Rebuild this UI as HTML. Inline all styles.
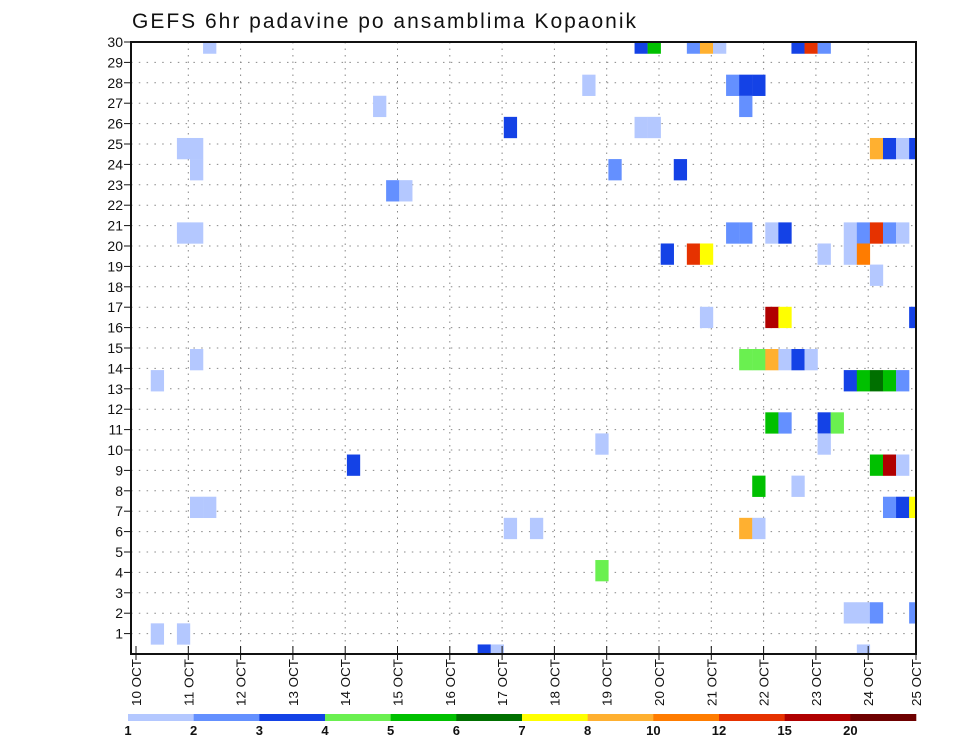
<!DOCTYPE html>
<html><head><meta charset="utf-8"><style>
html,body{margin:0;padding:0;background:#fff;}
svg{display:block;font-family:"Liberation Sans",sans-serif;}
</style></head><body>
<svg id="chart" width="960" height="742" viewBox="0 0 960 742" xmlns="http://www.w3.org/2000/svg">
<text x="132" y="28" font-size="21" fill="#111" textLength="504" lengthAdjust="spacing">GEFS 6hr padavine po ansamblima Kopaonik</text>
<g id="grid"></g>
<g id="cells" clip-path="url(#clip)"></g>
<defs><clipPath id="clip"><rect x="131" y="42" width="785" height="612"/></clipPath></defs>
<rect x="131" y="42" width="785" height="612" fill="none" stroke="#111" stroke-width="2"/>
<g id="yaxis"></g>
<g id="xaxis"></g>
<g id="legend"></g>
</svg>
<script>
const dayLabels = ["10","11","12","13","14","15","16","17","18","19","20","21","22","23","24","25"];
const yTicks = [1,2,3,4,5,6,7,8,9,10,11,12,13,14,15,16,17,18,19,20,21,22,23,24,25,26,27,28,29,30];
const legendLabels = ["1","2","3","4","5","6","7","8","10","12","15","20"];
const thresholds = [1,2,3,4,5,6,7,8,10,12,15,20];
const colors = ["#b4c8ff","#6490ff","#1442e6","#6af050","#00c000","#007000","#ffff00","#ffb030","#ff7c00","#e63200","#b00000","#6e0000"];
// member index (0..29), 6-hour step index, 6hr precipitation (mm)
const cellMember = [29,29,29,29,29,29,29,29,29, 27,27,27,27, 26,26, 25,25,25, 24,24,24,24,24,24, 23,23,23, 22,22,
 20,20,20,20,20,20,20,20,20,20,20, 19,19,19,19,19,19, 18, 16,16,16,16, 14,14,14,14,14,14,14, 13,13,13,13,13,13,
 11,11,11,11, 10,10, 9,9,9,9, 8,8, 7,7,7,7,7, 6,6,6,6, 4, 2,2,2,2, 1,1, 0,0,0];
const cellStep = [5,38,39,42,43,44,50,51,52, 34,45,46,47, 18,46, 28,38,39, 3,4,56,57,58,59, 4,36,41, 19,20,
 3,4,45,46,48,49,54,55,56,57,58, 40,42,43,52,54,55, 56, 43,48,49,59, 4,46,47,48,49,50,51, 1,54,55,56,57,58,
 48,49,52,53, 35,52, 16,56,57,58, 47,50, 4,5,57,58,59, 28,30,46,47, 35, 54,55,56,59, 1,3, 26,27,55];
const cellValue = [1.5,3.5,5.5,2.5,9,1.5,3.5,13,2.5, 1.5,2.5,3.5,3.5, 1.5,2.5, 3.5,1.5,1.5, 1.5,1.5,9,3.5,1.5,3.5, 1.5,2.5,3.5, 2.5,1.5,
 1.5,1.5,2.5,2.5,1.5,3.5,1.5,2.5,13,2.5,1.5, 3.5,13,7.5,1.5,1.5,11, 1.5, 1.5,17,7.5,3.5, 1.5,4.5,4.5,9,1.5,3.5,1.5, 1.5,3.5,5.5,6.5,5.5,2.5,
 5.5,2.5,3.5,4.5, 1.5,1.5, 3.5,5.5,17,1.5, 5.5,1.5, 1.5,1.5,2.5,3.5,7.5, 1.5,1.5,9,1.5, 4.5, 1.5,1.5,2.5,2.5, 1.5,1.5, 3.5,1.5,1.5];

const NS = "http://www.w3.org/2000/svg";
const X0 = 136, DAY = 52.3, YB = 654, YU = 20.4;
function xS(d){ return X0 + DAY * d; }
function yS(v){ return YB - YU * v; }
function mk(tag, attrs, parent){ const e = document.createElementNS(NS, tag); for (const k in attrs) e.setAttribute(k, attrs[k]); parent.appendChild(e); return e; }
function colorFor(v){ let i = 0; for (let j = 0; j < thresholds.length; j++) if (v >= thresholds[j]) i = j; return colors[i]; }

const grid = document.getElementById("grid");
for (let i = 1; i < dayLabels.length - 1; i++) {
  const l = mk("line", {x1: xS(i), x2: xS(i), y1: 42, y2: 654, stroke: "#888", "stroke-width": 1, "stroke-dasharray": "1.5 5"}, grid);
  
  
}
yTicks.forEach(v => {
  const l = mk("line", {x1: 131, x2: 916, y1: yS(v), y2: yS(v), stroke: "#888", "stroke-width": 1, "stroke-dasharray": "1.5 6.3"}, grid);
  
  
});

const cells = document.getElementById("cells");
const cw = xS(0.25) - xS(0), ch = YU * 30 / 29;
for (let i = 0; i < cellValue.length; i++) {
  const cx = xS(cellStep[i] / 4) + 1.7;
  const cy = yS(cellMember[i] * 30 / 29) + 1 - ch / 2;
  const r = mk("rect", {x: cx.toFixed(2), y: cy.toFixed(2), width: (cw + 0.2).toFixed(2), height: (ch + 0.2).toFixed(2), fill: colorFor(cellValue[i])}, cells);
  
  
}

const ya = document.getElementById("yaxis");
yTicks.forEach(v => {
  const t = mk("line", {x1: 124, x2: 131, y1: yS(v), y2: yS(v), stroke: "#111", "stroke-width": 1}, ya);
  
  
  const tx = mk("text", {x: 123, y: yS(v) + 5, "text-anchor": "end", "font-size": 14, fill: "#111"}, ya);
  tx.textContent = String(v);
  
  
});

const xa = document.getElementById("xaxis");
dayLabels.forEach((d, i) => {
  const x = Math.min(xS(i), 916);
  const t = mk("line", {x1: x, x2: x, y1: 646, y2: 660, stroke: "#111", "stroke-width": 1}, xa);
  
  
  const tx = mk("text", {transform: "translate(" + (x + 5) + ",659) rotate(-90)", "text-anchor": "end", "font-size": 13, fill: "#111", textLength: "47", lengthAdjust: "spacingAndGlyphs"}, xa);
  tx.textContent = d + " OCT";
  
  
});

const lg = document.getElementById("legend");
const LX0 = 128, LW = (916 - 128) / colors.length;
colors.forEach((c, i) => {
  const r = mk("rect", {x: LX0 + LW * i, y: 714, width: LW + 0.3, height: 7, fill: c}, lg);
  
  
});
legendLabels.forEach((s, i) => {
  const t = mk("text", {x: LX0 + LW * i, y: 735, "text-anchor": "middle", "font-size": 13, "font-weight": "bold", fill: "#111"}, lg);
  t.textContent = s;
  
  
});
</script>
</body></html>
